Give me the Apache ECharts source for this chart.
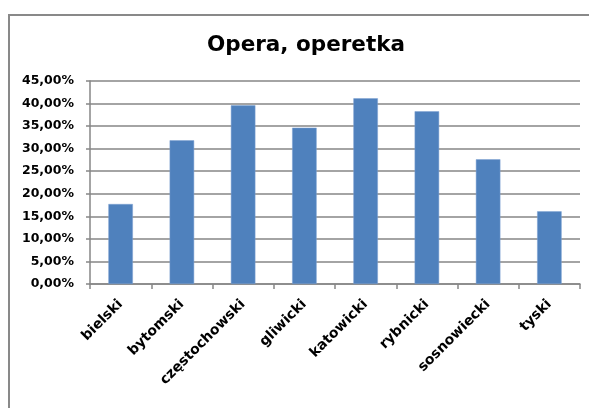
<!DOCTYPE html>
<html>
<head>
<meta charset="utf-8">
<script src="https://cdn.jsdelivr.net/npm/echarts@6/dist/echarts.min.js"></script>
<style>
html,body{margin:0;padding:0;background:#fff;}
#chart{width:589px;height:408px;}
</style>
</head>
<body>
<div id="chart"></div>
<script>
const titleText = 'Opera, operetka';
const categories = ['bielski','bytomski','częstochowski','gliwicki','katowicki','rybnicki','sosnowiecki','tyski'];
const values = [17.73, 31.85, 39.60, 34.65, 41.16, 38.28, 27.64, 16.10];
const yMin = 0, yMax = 45, yStep = 5;

const chart = echarts.init(document.getElementById('chart'));
chart.setOption({
  animation: false,
  backgroundColor: '#ffffff',
  graphic: [{
    type: 'rect',
    shape: { x: 9, y: 15, width: 700, height: 500 },
    style: { fill: 'none', stroke: '#898989', lineWidth: 2 },
    silent: true
  }],
  title: {
    text: titleText,
    left: 301, top: 29,
    textAlign: 'center',
    textStyle: { fontFamily: 'DejaVu Sans', fontWeight: 'bold', fontSize: 21.5, color: '#000' }
  },
  grid: { left: 90, right: 9, top: 81, bottom: 124, containLabel: false },
  xAxis: {
    type: 'category',
    data: categories,
    boundaryGap: true,
    axisLine: { lineStyle: { color: '#868686', width: 1.5 } },
    axisTick: { show: true, length: 5, alignWithLabel: false, lineStyle: { color: '#868686', width: 1.5 } },
    axisLabel: {
      rotate: 45, margin: 18, interval: 0,
      fontFamily: 'DejaVu Sans', fontWeight: 'bold', fontSize: 14, color: '#000'
    },
    splitLine: { show: false }
  },
  yAxis: {
    type: 'value',
    min: yMin, max: yMax, interval: yStep,
    axisLine: { show: true, lineStyle: { color: '#868686', width: 1.5 } },
    axisTick: { show: true, length: 4, lineStyle: { color: '#868686', width: 1.5 } },
    axisLabel: {
      margin: 16,
      fontFamily: 'DejaVu Sans', fontWeight: 'bold', fontSize: 12.5, color: '#000',
      formatter: v => v.toFixed(2).replace('.', ',') + '%'
    },
    splitLine: { show: true, lineStyle: { color: '#868686', width: 1.5 } }
  },
  series: [{
    type: 'bar',
    data: values,
    barCategoryGap: '60%',
    itemStyle: { color: '#4F81BD', borderColor: '#7EA3D2', borderWidth: 0.5 },
    silent: true
  }]
});
</script>
</body>
</html>
